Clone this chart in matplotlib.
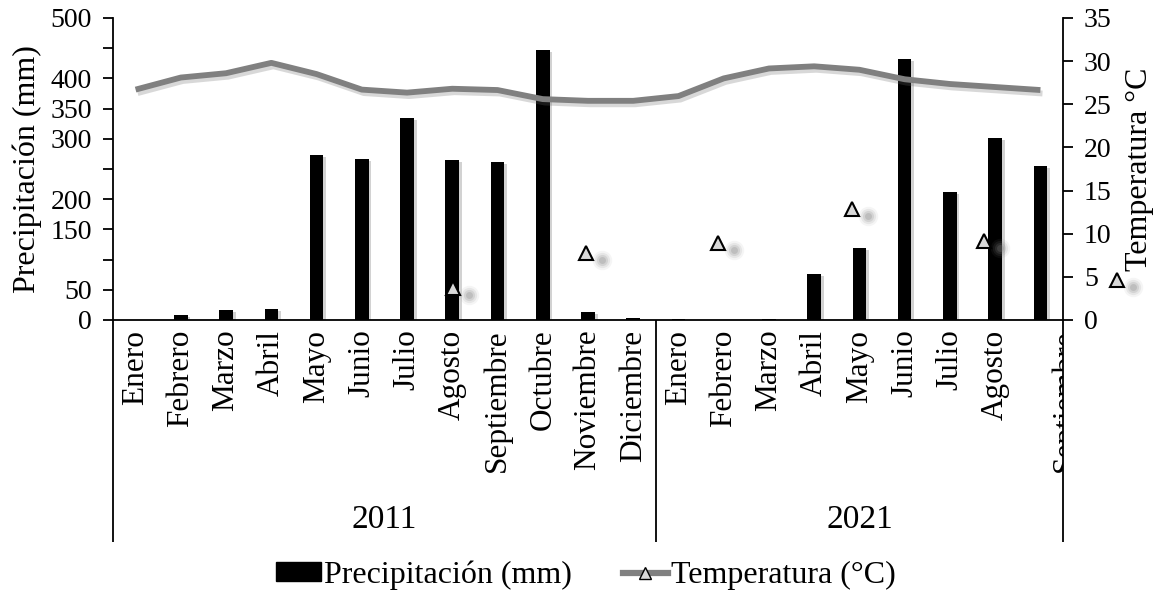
import numpy as np
import matplotlib
matplotlib.use('Agg')
from matplotlib import pyplot as plt
from matplotlib import patheffects as pe
from matplotlib import transforms
from matplotlib.patches import Patch, Rectangle
from matplotlib.lines import Line2D

plt.rcParams['font.family'] = ['Liberation Serif', 'DejaVu Serif']

# Monthly data
years = ['2011', '2021']
months_2011 = ['Enero', 'Febrero', 'Marzo', 'Abril', 'Mayo', 'Junio', 'Julio',
               'Agosto', 'Septiembre', 'Octubre', 'Noviembre', 'Diciembre']
months_2021 = months_2011[:9]
precip_2011 = [0.5, 8, 16.5, 18, 273, 266.5, 335, 265, 261, 447, 13.7, 3]
precip_2021 = [1, 0.5, 2, 76, 120, 431.6, 212, 302, 254.5]
temp_2011 = [26.7, 28.1, 28.6, 29.8, 28.5, 26.7, 26.35, 26.8, 26.65, 25.6, 25.4, 25.4]
temp_2021 = [25.95, 28.0, 29.15, 29.4, 29.0, 27.9, 27.35, 27.0, 26.65]

# loose temperature markers (category position, degrees)
marker_pos = [7.02, 9.95, 12.87, 15.83, 18.75, 21.7]
marker_temp = [3.7, 7.8, 8.9, 12.9, 9.2, 4.6]

months = months_2011 + months_2021
precip = precip_2011 + precip_2021
temp = temp_2011 + temp_2021
x = np.arange(len(months))
group_sizes = [len(months_2011), len(months_2021)]

fig = plt.figure(figsize=(11.6, 5.92), dpi=100)
ax = fig.add_axes([0.0974, 0.4595, 0.8190, 0.5101])
ax2 = ax.twinx()

gray = '#808080'

ax.bar(x, precip, width=0.3, color='black', zorder=2,
       path_effects=[pe.SimplePatchShadow(offset=(2, -1.5), shadow_rgbFace='0.5', alpha=0.35),
                     pe.Normal()])
ax.set_xlim(-0.5, len(months) - 0.5)
ax.set_ylim(0, 500)
yt = np.arange(0, 501, 50)
ax.set_yticks(yt)
ax.set_yticklabels(['' if v in (100, 250, 450) else str(v) for v in yt])
ax.set_ylabel('Precipitación (mm)', fontsize=23, labelpad=6)
ax.set_xticks([])

ax2.plot(x, temp, color=gray, lw=4.2, solid_capstyle='butt', zorder=3,
         path_effects=[pe.SimpleLineShadow(offset=(1.5, -2.5), shadow_color='0.4', alpha=0.25),
                       pe.Normal()])
ax2.set_ylim(0, 35)
ax2.set_yticks(np.arange(0, 36, 5))
ax2.set_ylabel('Temperatura °C', fontsize=23, labelpad=10)

# soft grey blobs next to the markers
blob = transforms.offset_copy(ax2.transData, fig=fig, x=16, y=-7, units='dots')
for ms, a in [(14, 0.08), (11, 0.12), (8, 0.18), (5, 0.25)]:
    ax2.plot(marker_pos, marker_temp, 'o', ms=ms, color=gray, alpha=a, mec='none',
             transform=blob, clip_on=False)
ax2.plot(marker_pos, marker_temp, '^', ms=10, mfc='#d9d9d9', mec='black', mew=1.5,
         ls='none', clip_on=False, zorder=4)

for a in (ax, ax2):
    a.spines['top'].set_visible(False)
    for s in a.spines.values():
        s.set_linewidth(1.3)
    a.tick_params(axis='y', direction='out', length=7, width=1.3, labelsize=20, pad=8)
ax.spines['right'].set_visible(False)
ax2.spines['left'].set_visible(False)
ax2.spines['bottom'].set_visible(False)

# two-level category axis: months, then years
clip = Rectangle((0, 0), 0.9164, 1, transform=fig.transFigure)
for i, m in enumerate(months):
    xi = i
    if i == len(months) - 1:
        xi = i + 0.55
    t = ax.annotate(m, (xi, 0), xycoords=('data', 'axes fraction'),
                    xytext=(0, -7), textcoords='offset points',
                    rotation=90, ha='center', va='top', fontsize=22.5)
    t.set_clip_path(clip)

edges = np.concatenate([[0], np.cumsum(group_sizes)]) - 0.5
ax.vlines(edges, -0.735, 0, transform=ax.get_xaxis_transform(),
          color='black', lw=1.3, clip_on=False)
for yr, lo, hi in zip(years, edges[:-1], edges[1:]):
    ax.annotate(yr, ((lo + hi) / 2, -0.662), xycoords=('data', 'axes fraction'),
                ha='center', va='center', fontsize=24)

handles = [Patch(facecolor='black', edgecolor='black'),
           Line2D([], [], color=gray, lw=4.5, marker='^', ms=8, mfc='#d9d9d9', mec='black')]
fig.legend(handles, ['Precipitación (mm)', 'Temperatura (°C)'], loc='center',
           bbox_to_anchor=(0.505, 0.028), ncol=2, frameon=False, fontsize=23,
           handlelength=1.4, handleheight=0.55, handletextpad=0.1, columnspacing=1.6)

fig.savefig('out.png', dpi=100)
